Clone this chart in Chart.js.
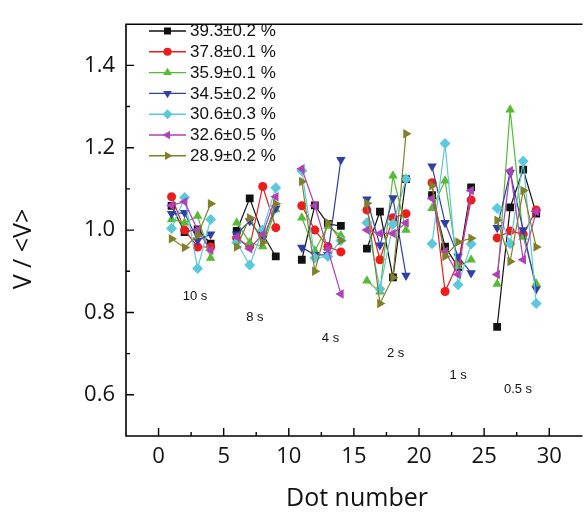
<!DOCTYPE html>
<html>
<head>
<meta charset="utf-8">
<script src="https://cdn.jsdelivr.net/npm/chart.js@4/dist/chart.umd.min.js"></script>
<style>
  html, body { margin: 0; padding: 0; background: #fff; }
  #wrap { width: 586px; height: 512px; }
</style>
</head>
<body>
<div id="wrap"><canvas id="c" width="586" height="512"></canvas></div>
<script>
// ---------- data ----------
const dotNumbers = [1, 2, 3, 4, 6, 7, 8, 9, 11, 12, 13, 14, 16, 17, 18, 19, 21, 22, 23, 24, 26, 27, 28, 29];
const gapNumbers = [5, 10, 15, 20, 25];

const seriesNames = ['39.3\u00b10.2 %', '37.8\u00b10.1 %', '35.9\u00b10.1 %', '34.5\u00b10.2 %', '30.6\u00b10.3 %', '32.6\u00b10.5 %', '28.9\u00b10.2 %'];

const s393 = [1.059, 0.995, 1.002, 0.967, 0.998, 1.077, 0.990, 0.936, 0.928, 1.060, 1.015, 1.010, 0.955, 1.045, 0.885, 1.124, 1.085, 0.960, 0.910, 1.104, 0.765, 1.055, 1.147, 1.040];
const s378 = [1.081, 1.000, 0.959, 0.959, 0.980, 0.960, 1.106, 1.006, 1.059, 1.000, 0.960, 0.947, 1.049, 0.928, 1.030, 1.040, 1.115, 0.851, 0.920, 1.073, 0.981, 0.998, 0.990, 1.049];
const s359 = [1.026, 1.018, 1.034, 0.932, 1.018, 0.970, 0.960, 1.050, 1.030, 0.950, 1.010, 0.987, 0.877, 0.850, 1.132, 1.000, 1.053, 1.120, 0.912, 0.928, 0.869, 1.292, 0.983, 0.870];
const s345 = [1.040, 1.042, 0.975, 0.990, 0.990, 1.022, 0.980, 1.053, 0.958, 0.940, 0.940, 1.171, 1.075, 0.963, 1.078, 0.890, 1.155, 1.018, 0.936, 0.896, 1.006, 1.140, 1.000, 0.857];
const s306 = [1.004, 1.079, 0.907, 1.026, 0.970, 0.915, 1.000, 1.103, 1.144, 0.932, 0.936, 0.975, 1.018, 0.857, 1.014, 1.124, 0.967, 1.210, 0.867, 0.966, 1.053, 0.967, 1.167, 0.822];
const s326 = [1.060, 1.069, 1.000, 0.951, 0.983, 0.955, 0.990, 1.081, 1.149, 1.059, 0.953, 0.845, 1.000, 0.992, 0.992, 1.018, 1.077, 0.948, 0.892, 1.096, 0.892, 1.144, 0.928, 1.045];
const s289 = [0.979, 0.958, 0.987, 1.064, 0.959, 1.030, 0.970, 1.064, 1.118, 0.900, 1.018, 0.975, 1.065, 0.822, 0.885, 1.234, 1.108, 0.936, 0.971, 0.980, 1.024, 0.924, 1.096, 0.959];

const xTickValues = [0, 5, 10, 15, 20, 25, 30];
const yTickValues = [0.6, 0.8, 1.0, 1.2, 1.4];

const intervalLabels = ['10 s', '8 s', '4 s', '2 s', '1 s', '0.5 s'];
const intervalLabelX = [2.8, 7.4, 13.2, 18.2, 23.0, 27.6];
const intervalLabelY = [0.84, 0.788, 0.736, 0.70, 0.647, 0.612];

// ---------- styles ----------
const allSeries = [s393, s378, s359, s345, s306, s326, s289];
const colors = ['#111111', '#ee1c1c', '#55bb33', '#2f3fa8', '#5cc8dc', '#b040b8', '#808028'];
const styles = [
  { pointStyle: 'rect', rotation: 0, radius: 5.5 },
  { pointStyle: 'circle', rotation: 0, radius: 4.5 },
  { pointStyle: 'triangle', rotation: 0, radius: 5.5 },
  { pointStyle: 'triangle', rotation: 180, radius: 5.5 },
  { pointStyle: 'rectRot', rotation: 0, radius: 5.5 },
  { pointStyle: 'triangle', rotation: -90, radius: 5.5 },
  { pointStyle: 'triangle', rotation: 90, radius: 5.5 }
];

function buildPoints(values) {
  const pts = [];
  dotNumbers.forEach((d, i) => {
    pts.push({ x: d, y: values[i] });
    if (gapNumbers.includes(d + 1)) pts.push({ x: d + 1, y: null });
  });
  return pts;
}

const datasets = allSeries.map((vals, i) => ({
  label: seriesNames[i],
  data: buildPoints(vals),
  borderColor: colors[i],
  backgroundColor: colors[i],
  borderWidth: 1.2,
  pointStyle: styles[i].pointStyle,
  pointRotation: styles[i].rotation,
  pointRadius: styles[i].radius,
  pointHoverRadius: styles[i].radius,
  pointBorderWidth: 0,
  spanGaps: false,
  tension: 0,
  order: 7 - i
}));

const TICK_FONT = { family: '"Open Sans", "Liberation Sans", sans-serif', size: 22 };

const framePlugin = {
  id: 'frame',
  afterDraw(chart) {
    const { ctx, chartArea: a, scales } = chart;
    const xs = scales.x, ys = scales.y;
    ctx.save();
    ctx.strokeStyle = '#000';
    ctx.lineWidth = 1.6;
    ctx.beginPath();
    ctx.moveTo(a.right + 2, a.top); ctx.lineTo(a.left, a.top);
    ctx.lineTo(a.left, a.bottom); ctx.lineTo(a.right + 2, a.bottom);
    ctx.stroke();
    // inward ticks
    ctx.lineWidth = 1.4;
    ctx.beginPath();
    for (let v = -2.5; v <= 32.5; v += 2.5) {
      const px = xs.getPixelForValue(v);
      if (px < a.left + 1 || px > a.right - 1) continue;
      const major = Math.abs(v % 5) < 1e-9;
      const len = major ? 8 : 4;
      ctx.moveTo(px, a.bottom); ctx.lineTo(px, a.bottom - len);
    }
    for (let k = 5; k <= 15; k++) {
      const v = k / 10;
      const py = ys.getPixelForValue(v);
      if (py < a.top + 1 || py > a.bottom - 1) continue;
      const len = (k % 2 === 0) ? 8 : 4;
      ctx.moveTo(a.left, py); ctx.lineTo(a.left + len, py);
    }
    ctx.stroke();

    // interval labels
    ctx.fillStyle = '#111';
    ctx.font = '13px "Liberation Sans", Arial, sans-serif';
    ctx.textAlign = 'center';
    ctx.textBaseline = 'middle';
    intervalLabels.forEach((t, i) => {
      ctx.fillText(t, xs.getPixelForValue(intervalLabelX[i]), ys.getPixelForValue(intervalLabelY[i]));
    });

    // legend
    chart.data.datasets.forEach((ds, i) => {
      const y = 31 + i * 20.8;
      ctx.strokeStyle = ds.borderColor;
      ctx.lineWidth = 1.4;
      ctx.beginPath(); ctx.moveTo(149, y); ctx.lineTo(186, y); ctx.stroke();
      ctx.fillStyle = ds.backgroundColor;
      Chart.helpers.drawPoint(ctx, {
        pointStyle: ds.pointStyle, rotation: ds.pointRotation,
        radius: ds.pointRadius * 0.9, borderWidth: 0
      }, 167.5, y);
      ctx.fillStyle = '#111';
      ctx.font = '17px "Liberation Sans", Arial, sans-serif';
      ctx.textAlign = 'left';
      ctx.textBaseline = 'middle';
      ctx.fillText(ds.label, 190, y + 0.5);
    });

    // axis titles
    ctx.fillStyle = '#111';
    ctx.font = '25px "Open Sans", "Liberation Sans", sans-serif';
    ctx.textAlign = 'center';
    ctx.textBaseline = 'middle';
    ctx.fillText('Dot number', 357, 499);
    ctx.save();
    ctx.translate(24, 249);
    ctx.rotate(-Math.PI / 2);
    ctx.fillText('V / <V>', 0, 0);
    ctx.restore();
    ctx.restore();
  }
};

new Chart(document.getElementById('c'), {
  type: 'line',
  data: { datasets },
  options: {
    responsive: false,
    animation: false,
    devicePixelRatio: 1,
    layout: { padding: { top: 15, right: 0, bottom: 0, left: 0 } },
    plugins: { legend: { display: false }, tooltip: { enabled: false } },
    scales: {
      x: {
        type: 'linear',
        min: -2.5, max: 32.4,
        grid: { display: false, drawTicks: false },
        border: { display: false },
        afterFit: s => { s.height = 76; },
        afterBuildTicks: s => { s.ticks = xTickValues.map(v => ({ value: v })); },
        ticks: { font: TICK_FONT, color: '#111', padding: 8, maxRotation: 0, callback: v => String(v) }
      },
      y: {
        type: 'linear',
        min: 0.5, max: 1.5,
        grid: { display: false, drawTicks: false },
        border: { display: false },
        afterFit: s => { s.width = 126; },
        afterBuildTicks: s => { s.ticks = yTickValues.map(v => ({ value: v })); },
        ticks: { font: TICK_FONT, color: '#111', padding: 11, callback: v => Number(v).toFixed(1) }
      }
    }
  },
  plugins: [framePlugin]
});
</script>
</body>
</html>
